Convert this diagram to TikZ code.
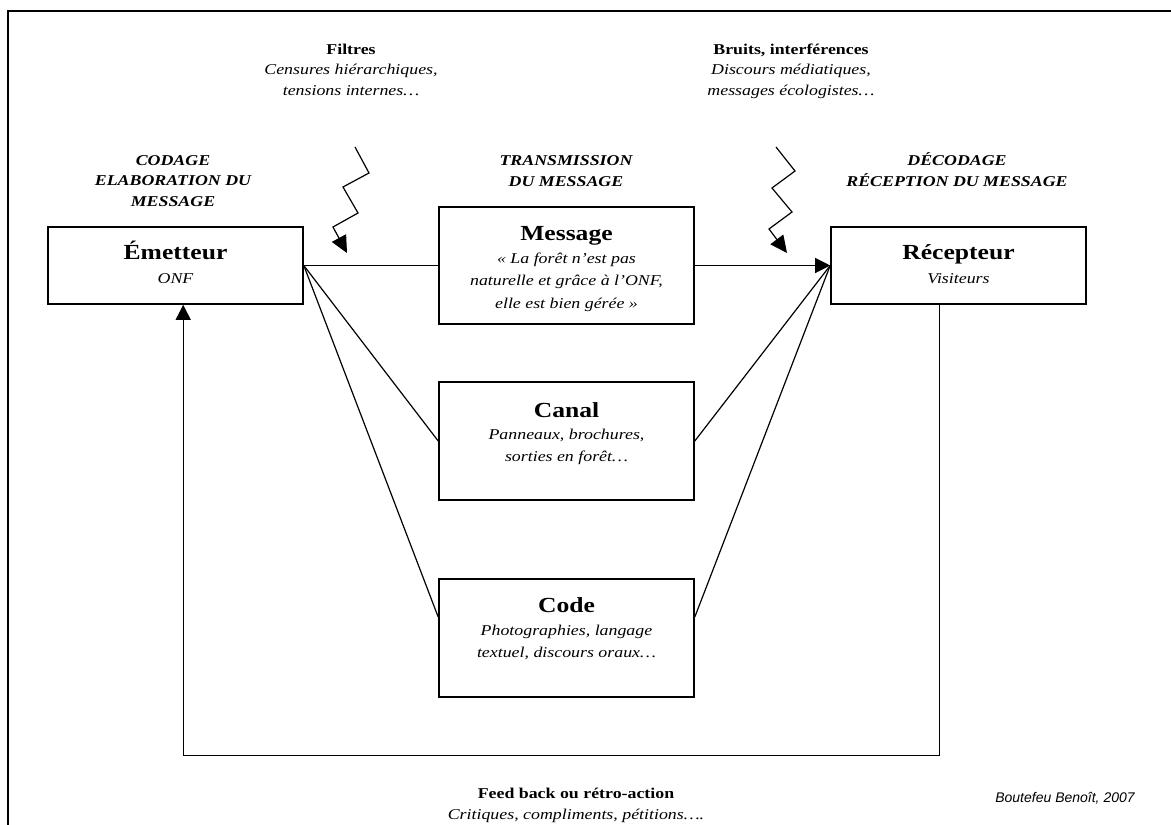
\documentclass[tikz,border=0pt]{standalone}
\usepackage{fontspec}
\setmainfont{Liberation Serif}[FakeStretch=1.19]
\newfontfamily\arialfont{Liberation Sans}
\usetikzlibrary{arrows.meta}
\begin{document}
\begin{tikzpicture}[x=1pt,y=-1pt,
  box/.style={draw, line width=1.6pt, inner sep=0pt},
  conn/.style={line width=1.2pt},
  tip/.style={-{Triangle[length=15pt,width=15pt]}},
  btip/.style={-{Triangle[length=17pt,width=16pt]}},
  ttl/.style={font=\fontsize{21.5}{24}\selectfont\bfseries, inner sep=0pt, anchor=base},
  body/.style={font=\fontsize{15}{22.5}\selectfont\itshape, align=center, inner sep=0pt, anchor=base},
  hdr/.style={font=\fontsize{15}{20.5}\selectfont\bfseries\itshape, align=center, inner sep=0pt, anchor=base},
  note/.style={font=\fontsize{15}{20.5}\selectfont, align=center, inner sep=0pt, anchor=base},
]
\useasboundingbox (0,0) rectangle (1171,825);
\draw[line width=1.8pt] (8,825) -- (8,11) -- (1171,11);

% boxes
\node[box, minimum width=255pt, minimum height=77pt] (em) at (175.5,265.5) {};
\node[box, minimum width=255pt, minimum height=117pt] (msg) at (566.5,265.5) {};
\node[box, minimum width=255pt, minimum height=77pt] (rec) at (958.5,265.5) {};
\node[box, minimum width=255pt, minimum height=118pt] (canal) at (566.5,441) {};
\node[box, minimum width=255pt, minimum height=118pt] (code) at (566.5,638) {};

% box texts (base anchor = baseline of the last line)
\node[ttl] (emT) at (175.5,259) {Émetteur};
\node[body] (emB) at (175.5,283) {ONF};
\node[ttl] (recT) at (958.5,259) {Récepteur};
\node[body] (recB) at (958.5,283) {Visiteurs};
\node[ttl] (msgT) at (566.5,240) {Message};
\node[body] (msgB) at (566.5,308) {« La forêt n’est pas\\naturelle et grâce à l’ONF,\\elle est bien gérée »};
\node[ttl] (canT) at (566.5,417) {Canal};
\node[body] (canB) at (566.5,461.5) {Panneaux, brochures,\\sorties en forêt…};
\node[ttl] (codT) at (566.5,612) {Code};
\node[body] (codB) at (566.5,657.5) {Photographies, langage\\textuel, discours oraux…};

% headers
\node[hdr] (hCod) at (173,206) {CODAGE\\ELABORATION DU\\MESSAGE};
\node[hdr] (hTra) at (566,186) {TRANSMISSION\\DU MESSAGE};
\node[hdr] (hDec) at (957,186) {DÉCODAGE\\RÉCEPTION DU MESSAGE};

% notes
\node[note] (fil) at (351,95) {\textbf{Filtres}\\\textit{Censures hiérarchiques,}\\\textit{tensions internes…}};
\node[note] (bru) at (791,95) {\textbf{Bruits, interférences}\\\textit{Discours médiatiques,}\\\textit{messages écologistes…}};
\node[note, font=\fontsize{15}{21}\selectfont] (fb) at (576,819) {\textbf{Feed back ou rétro-action}\\\textit{Critiques, compliments, pétitions….}};
\node[inner sep=0pt, anchor=base, font=\arialfont\itshape\fontsize{14}{17}\selectfont] (src) at (1065,802) {Boutefeu Benoît, 2007};

% connectors
\draw[conn] (em.east) -- (msg.west);
\draw[conn, tip] (msg.east) -- (rec.west);
\draw[conn] (em.east) -- (canal.west);
\draw[conn] (em.east) -- ([yshift=21pt]code.west);
\draw[conn] (canal.east) -- (rec.west);
\draw[conn] ([yshift=21pt]code.east) -- (rec.west);
\draw[line width=1.1pt, tip] ([xshift=109pt]rec.south west) -- ++(0,451) -| ([xshift=136pt]em.south west);

% lightning bolts
\draw[conn, btip] (355,147) -- (369,173) -- (343,187) -- (358,213) -- (333,227) -- (347,253);
\draw[conn, btip] (776,147) -- (795,171) -- (772,188) -- (792,212) -- (769,229) -- (787,253);
\end{tikzpicture}
\end{document}
